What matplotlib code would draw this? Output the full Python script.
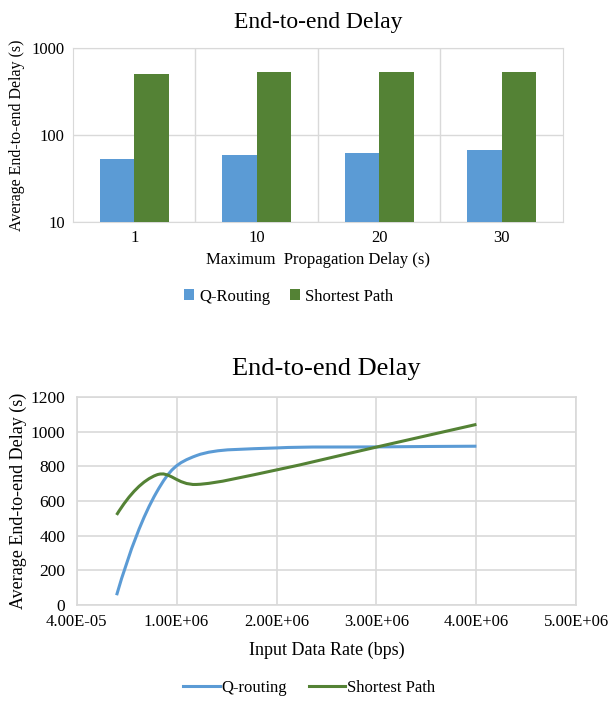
import matplotlib.pyplot as plt
import numpy as np
from matplotlib.path import Path
from matplotlib.patches import PathPatch
from matplotlib.lines import Line2D

plt.rcParams['font.family'] = ['Liberation Serif', 'DejaVu Serif']

# top chart data
delay_labels = ['1', '10', '20', '30']
q_routing_bar = [52.9, 58.4, 61.5, 67.2]
shortest_bar = [506, 522, 522, 522]

# bottom chart data
rate = [0.4e6, 0.8e6, 1.2e6, 2.0e6, 3.0e6, 4.0e6]
q_routing_line = [55, 650, 862, 906, 912, 916]
shortest_line = [519, 750, 695, 779, 911, 1042]
rate_ticks = [4e-5, 1e6, 2e6, 3e6, 4e6, 5e6]
rate_labels = ['4.00E-05', '1.00E+06', '2.00E+06', '3.00E+06', '4.00E+06', '5.00E+06']

blue = '#5B9BD5'
green = '#548235'
grid_c = '#D9D9D9'


def smooth_path(xs, ys):
    # excel style smoothed line: cubic bezier segments through the points
    pts = np.column_stack([xs, ys]).astype(float)
    n = len(pts)
    tang = [None] * n
    for i in range(1, n - 1):
        tang[i] = (pts[i + 1] - pts[i - 1]) / 2
    # natural ends
    tang[0] = 2 * (pts[1] - pts[0]) - tang[1]
    tang[-1] = 2 * (pts[-1] - pts[-2]) - tang[-2]
    verts = [pts[0]]
    codes = [Path.MOVETO]
    for i in range(n - 1):
        verts += [pts[i] + tang[i] / 3, pts[i + 1] - tang[i + 1] / 3, pts[i + 1]]
        codes += [Path.CURVE4] * 3
    return Path(verts, codes)


fig = plt.figure(figsize=(6.08, 7.04), dpi=100)

# ---- top: bar chart ----
ax1 = fig.add_axes([0.120, 0.685, 0.806, 0.247])
x = np.arange(len(delay_labels))
w = 0.28
ax1.bar(x - w / 2, q_routing_bar, w, color=blue, label='Q-Routing', zorder=3)
ax1.bar(x + w / 2, shortest_bar, w, color=green, label='Shortest Path', zorder=3)
ax1.set_yscale('log')
ax1.set_ylim(10, 1000)
ax1.set_xlim(-0.5, 3.5)
ax1.set_yticks([10, 100, 1000])
ax1.set_yticklabels(['10', '100', '1000'])
ax1.yaxis.set_minor_locator(plt.NullLocator())
ax1.set_xticks(x)
ax1.set_xticklabels(delay_labels)
ax1.set_xticks([0.5, 1.5, 2.5], minor=True)
ax1.grid(True, which='major', axis='y', color=grid_c, lw=1, zorder=0)
ax1.grid(True, which='minor', axis='x', color=grid_c, lw=1, zorder=0)
ax1.tick_params(which='both', length=0, labelsize=12, pad=6)
for s in ax1.spines.values():
    s.set_color(grid_c)
ax1.set_title('End-to-end Delay', fontsize=17, pad=14)
ax1.set_xlabel('Maximum  Propagation Delay (s)', fontsize=12, labelpad=4)
ax1.set_ylabel('Average End-to-end Delay (s)', fontsize=11.5, labelpad=5)
ax1.legend(loc='center', bbox_to_anchor=(0.44, -0.43), ncol=2, frameon=False,
           fontsize=12, handlelength=0.6, handleheight=0.6, columnspacing=1.2,
           handletextpad=0.3)

# ---- bottom: smoothed lines ----
ax2 = fig.add_axes([0.126, 0.141, 0.822, 0.295])
for xs, ys, col in [(rate, q_routing_line, blue), (rate, shortest_line, green)]:
    ax2.add_patch(PathPatch(smooth_path(xs, ys), fill=False, edgecolor=col,
                            lw=2.2, zorder=3))
ax2.set_xlim(4e-5, 5e6)
ax2.set_ylim(0, 1200)
ax2.set_xticks(rate_ticks)
ax2.set_xticklabels(rate_labels)
ax2.set_yticks(range(0, 1201, 200))
ax2.grid(True, color=grid_c, lw=1.2, zorder=0)
ax2.tick_params(axis='x', length=0, labelsize=12, pad=7)
ax2.tick_params(axis='y', length=0, labelsize=12.5, pad=8)
for s in ax2.spines.values():
    s.set_color(grid_c)
    s.set_linewidth(1.2)
ax2.set_title('End-to-end Delay', fontsize=19, pad=16)
ax2.set_xlabel('Input Data Rate (bps)', fontsize=13, labelpad=8)
ax2.set_ylabel('Average End-to-end Delay (s)', fontsize=13, labelpad=3)
handles = [Line2D([], [], color=blue, lw=2.2), Line2D([], [], color=green, lw=2.2)]
ax2.legend(handles, ['Q-routing', 'Shortest Path'], loc='center',
           bbox_to_anchor=(0.465, -0.40), ncol=2, frameon=False, fontsize=12,
           handlelength=2.2, handletextpad=0.1, columnspacing=1.3)

fig.savefig('out.png', dpi=100)
